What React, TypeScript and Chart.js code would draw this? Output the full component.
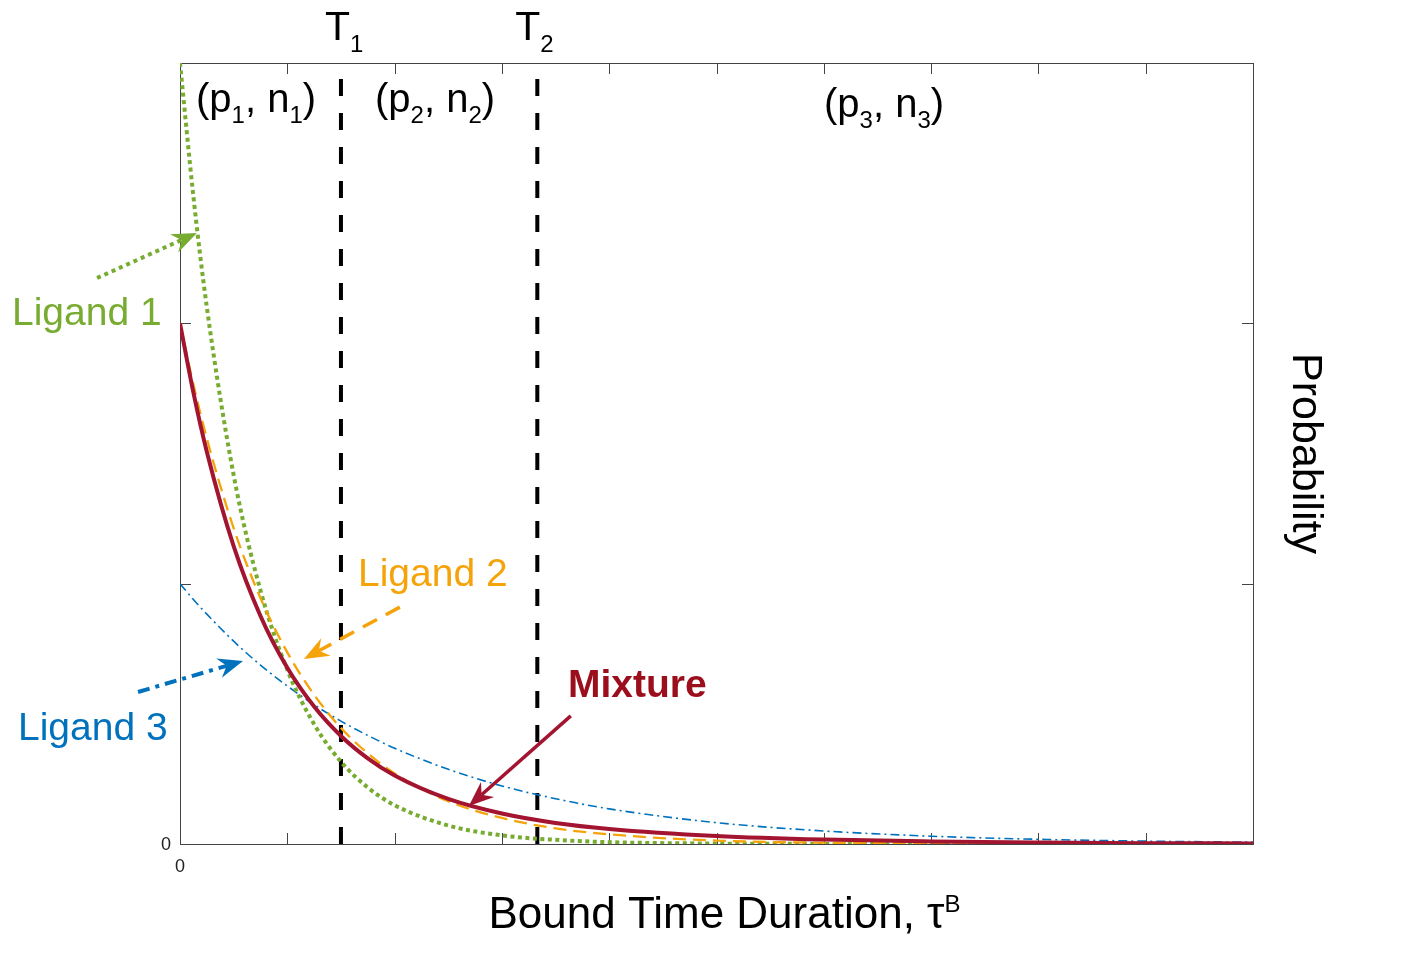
import React, { useEffect, useRef } from "react";
import { Chart, registerables } from "chart.js";

Chart.register(...registerables);

// ---- data ----
const tauValues = [0, 0.125, 0.25, 0.5, 0.75, 1, 1.25, 1.5, 1.75, 2, 2.5, 3, 3.5, 4, 5, 6, 7, 8, 9, 10];
const ligand1 = [3, 2.487, 2.062, 1.417, 0.974, 0.669, 0.46, 0.316, 0.217, 0.149, 0.071, 0.033, 0.016, 0.007, 0.0017, 0.0004, 0.0001, 0, 0, 0];
const ligand2 = [2, 1.765, 1.558, 1.213, 0.945, 0.736, 0.573, 0.446, 0.348, 0.271, 0.164, 0.1, 0.06, 0.037, 0.013, 0.005, 0.002, 0.0007, 0.0002, 0.0001];
const ligand3 = [1, 0.939, 0.883, 0.779, 0.687, 0.607, 0.535, 0.472, 0.417, 0.368, 0.287, 0.223, 0.174, 0.135, 0.082, 0.05, 0.03, 0.018, 0.011, 0.007];
const mixture = [2, 1.734, 1.507, 1.144, 0.876, 0.677, 0.528, 0.415, 0.329, 0.263, 0.173, 0.117, 0.081, 0.058, 0.031, 0.017, 0.01, 0.006, 0.0033, 0.002];
const thresholds = [1.5, 3.33];
const thresholdNames = ["1", "2"];
const xTicks = [0, 1, 2, 3, 4, 5, 6, 7, 8, 9, 10];
const yTicks = [0, 1, 2, 3];

const FONT = '"Liberation Sans", Arial, Helvetica, sans-serif';
const GREEN = "#77AC30";
const ORANGE = "#F5A30A";
const BLUE = "#0072BD";
const RED = "#A2142F";
const RED_TEXT = "#9B0F1D";

type Seg = { t: string; size: number; dy?: number; bold?: boolean };

function drawRich(ctx: CanvasRenderingContext2D, x: number, y: number, segs: Seg[], color: string) {
  ctx.save();
  ctx.fillStyle = color;
  ctx.textAlign = "left";
  ctx.textBaseline = "alphabetic";
  let cx = x;
  for (const s of segs) {
    ctx.font = `${s.bold ? "bold " : ""}${s.size}px ${FONT}`;
    ctx.fillText(s.t, cx, y + (s.dy || 0));
    cx += ctx.measureText(s.t).width;
  }
  ctx.restore();
  return cx - x;
}

function drawArrow(
  ctx: CanvasRenderingContext2D,
  x0: number, y0: number, x1: number, y1: number,
  color: string, width: number, dash: number[]
) {
  const dx = x1 - x0, dy = y1 - y0;
  const len = Math.hypot(dx, dy);
  const ux = dx / len, uy = dy / len;
  const nx = -uy, ny = ux;
  const L = 25, W = 10, notch = 8;
  const bx = x1 - ux * (L - notch), by = y1 - uy * (L - notch);
  ctx.save();
  ctx.strokeStyle = color;
  ctx.lineWidth = width;
  ctx.setLineDash(dash);
  ctx.beginPath();
  ctx.moveTo(x0, y0);
  ctx.lineTo(bx, by);
  ctx.stroke();
  ctx.setLineDash([]);
  ctx.fillStyle = color;
  ctx.beginPath();
  ctx.moveTo(x1, y1);
  ctx.lineTo(x1 - ux * L + nx * W, y1 - uy * L + ny * W);
  ctx.lineTo(bx, by);
  ctx.lineTo(x1 - ux * L - nx * W, y1 - uy * L - ny * W);
  ctx.closePath();
  ctx.fill();
  ctx.restore();
}

const framePlugin = {
  id: "frame",
  beforeDatasetsDraw(chart: any) {
    const { ctx, chartArea: a, scales } = chart;
    ctx.save();
    ctx.strokeStyle = "#444";
    ctx.lineWidth = 1;
    ctx.strokeRect(Math.round(a.left) + 0.5, Math.round(a.top) + 0.5, Math.round(a.right - a.left), Math.round(a.bottom - a.top));
    ctx.beginPath();
    for (const v of xTicks) {
      if (v === xTicks[0] || v === xTicks[xTicks.length - 1]) continue;
      const px = Math.round(scales.x.getPixelForValue(v)) + 0.5;
      ctx.moveTo(px, a.bottom);
      ctx.lineTo(px, a.bottom - 11);
      ctx.moveTo(px, a.top);
      ctx.lineTo(px, a.top + 11);
    }
    for (const v of yTicks) {
      if (v === yTicks[0] || v === yTicks[yTicks.length - 1]) continue;
      const py = Math.round(scales.y.getPixelForValue(v)) + 0.5;
      ctx.moveTo(a.left, py);
      ctx.lineTo(a.left + 11, py);
      ctx.moveTo(a.right, py);
      ctx.lineTo(a.right - 11, py);
    }
    ctx.stroke();
    // zero tick labels
    ctx.fillStyle = "#222";
    ctx.font = `18px ${FONT}`;
    ctx.textAlign = "center";
    ctx.textBaseline = "middle";
    ctx.fillText("0", a.left - 14, scales.y.getPixelForValue(0) + 1);
    ctx.fillText("0", scales.x.getPixelForValue(0), a.bottom + 23);
    ctx.restore();
  },
};

const annotationPlugin = {
  id: "annotations",
  afterDraw(chart: any) {
    const { ctx, chartArea: a, scales } = chart;
    const X = (v: number) => scales.x.getPixelForValue(v);
    const Y = (v: number) => scales.y.getPixelForValue(v);

    // threshold labels
    const tOffsets = [-16, -22];
    thresholds.forEach((t, i) => {
      drawRich(ctx, X(t) + tOffsets[i], 40, [
        { t: "T", size: 41 },
        { t: thresholdNames[i], size: 24, dy: 12 },
      ], "#000");
    });

    // region labels
    const region = (p: string, x: number, y: number) =>
      drawRich(ctx, x, y, [
        { t: "(p", size: 40 },
        { t: p, size: 24, dy: 11 },
        { t: ", n", size: 40 },
        { t: p, size: 24, dy: 11 },
        { t: ")", size: 40 },
      ], "#000");
    region("1", 196, 112);
    region("2", 375, 112);
    region("3", 824, 117);

    // series labels
    drawRich(ctx, 12, 325, [{ t: "Ligand 1", size: 39 }], GREEN);
    drawRich(ctx, 358, 586, [{ t: "Ligand 2", size: 39 }], ORANGE);
    drawRich(ctx, 18, 740, [{ t: "Ligand 3", size: 39 }], BLUE);
    drawRich(ctx, 568, 697, [{ t: "Mixture", size: 39, bold: true }], RED_TEXT);

    // arrows (data coordinates)
    drawArrow(ctx, X(-0.773), Y(2.174), X(0.158), Y(2.347), GREEN, 4, [4, 4]);
    drawArrow(ctx, X(2.049), Y(0.91), X(1.155), Y(0.711), ORANGE, 3.5, [16, 10]);
    drawArrow(ctx, X(-0.391), Y(0.584), X(0.587), Y(0.703), BLUE, 4, [12, 6, 4, 6]);
    drawArrow(ctx, X(3.642), Y(0.492), X(2.692), Y(0.146), RED, 3.5, []);

    // axis titles
    ctx.save();
    ctx.font = `44px ${FONT}`;
    const main = "Bound Time Duration, τ";
    const w1 = ctx.measureText(main).width;
    ctx.font = `24px ${FONT}`;
    const w2 = ctx.measureText("B").width;
    ctx.restore();
    const cx = (a.left + a.right) / 2 + 8;
    drawRich(ctx, cx - (w1 + w2) / 2, 928, [
      { t: main, size: 44 },
      { t: "B", size: 24, dy: -16 },
    ], "#000");

    ctx.save();
    ctx.translate(a.right + 52, (a.top + a.bottom) / 2);
    ctx.rotate(Math.PI / 2);
    ctx.font = `43px ${FONT}`;
    ctx.fillStyle = "#000";
    ctx.textAlign = "center";
    ctx.textBaseline = "middle";
    ctx.fillText("Probability", 0, 0);
    ctx.restore();
  },
};

function toPoints(ys: number[]) {
  return tauValues.map((t, i) => ({ x: t, y: ys[i] }));
}

export default function App() {
  const ref = useRef<HTMLCanvasElement | null>(null);

  useEffect(() => {
    if (!ref.current) return;
    const common = { pointRadius: 0, fill: false, cubicInterpolationMode: "monotone" as const };
    const chart = new Chart(ref.current, {
      type: "line",
      data: {
        datasets: [
          { label: "Mixture", data: toPoints(mixture), borderColor: RED, borderWidth: 4, ...common, order: 0 },
          { label: "Ligand 1", data: toPoints(ligand1), borderColor: GREEN, borderWidth: 4, borderDash: [4, 3.5], ...common, order: 2 },
          { label: "Ligand 2", data: toPoints(ligand2), borderColor: ORANGE, borderWidth: 2.3, borderDash: [13, 7], ...common, order: 1 },
          { label: "Ligand 3", data: toPoints(ligand3), borderColor: BLUE, borderWidth: 1.6, borderDash: [9, 4, 2, 4], ...common, order: 3 },
          ...thresholds.map((t, i) => ({
            label: "T" + thresholdNames[i],
            data: [{ x: t, y: yTicks[0] }, { x: t, y: yTicks[yTicks.length - 1] }],
            borderColor: "#000",
            borderWidth: 4,
            borderDash: [17, 17],
            pointRadius: 0,
            fill: false,
            order: 4,
          })),
        ] as any,
      },
      options: {
        animation: false,
        responsive: false,
        maintainAspectRatio: false,
        layout: { padding: { left: 172, right: 153, top: 63, bottom: 107 } },
        plugins: { legend: { display: false }, tooltip: { enabled: false } },
        scales: {
          x: {
            type: "linear",
            min: xTicks[0],
            max: xTicks[xTicks.length - 1],
            ticks: { display: false, stepSize: 1 },
            grid: { display: false },
            border: { display: false },
          },
          y: {
            type: "linear",
            min: yTicks[0],
            max: yTicks[yTicks.length - 1],
            ticks: { display: false, stepSize: 1 },
            grid: { display: false },
            border: { display: false },
          },
        },
      },
      plugins: [framePlugin, annotationPlugin],
    });
    return () => chart.destroy();
  }, []);

  return (
    <div style={{ position: "absolute", left: 0, top: 0, width: 1406, height: 959, background: "#fff" }}>
      <canvas ref={ref} width={1406} height={959} style={{ display: "block" }} />
    </div>
  );
}
